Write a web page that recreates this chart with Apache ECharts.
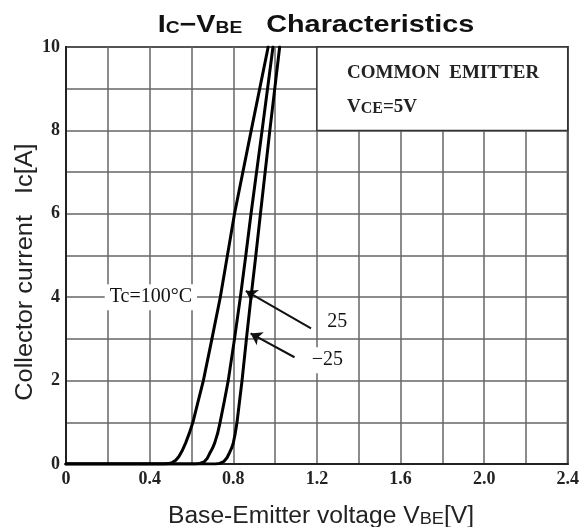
<!DOCTYPE html>
<html><head><meta charset="utf-8">
<script src="https://cdn.jsdelivr.net/npm/echarts@6/dist/echarts.min.js"></script>
<style>html,body{margin:0;padding:0;background:#fff}#c{width:582px;height:527px}</style>
</head><body><div id="c"></div>
<script>
// Data (VBE in V, Ic in A)
const vbeT100 = [0, 0.47, 0.49, 0.51, 0.525, 0.54, 0.555, 0.572, 0.59, 0.607, 0.632, 0.657, 0.698, 0.738, 0.772, 0.806, 0.886, 0.967];
const icT100  = [0, 0,    0.01, 0.04, 0.09,  0.18, 0.31,  0.5,   0.74, 1,     1.5,   2,     3,     4,     5,     6,     8,     10];
const vbeT25  = [0, 0.62, 0.64,  0.66, 0.675, 0.687, 0.70, 0.711, 0.725, 0.737, 0.757, 0.776, 0.806, 0.834, 0.86, 0.885, 0.938, 0.99];
const icT25   = [0, 0,    0.015, 0.05, 0.13,  0.25,  0.37, 0.5,   0.73,  1,     1.5,   2,     3,     4,     5,    6,     8,     10];
const vbeTm25 = [0, 0.715, 0.735, 0.755, 0.77, 0.782, 0.792, 0.80, 0.809, 0.818, 0.83, 0.842, 0.863, 0.885, 0.908, 0.93, 0.975, 1.022];
const icTm25  = [0, 0,     0.015, 0.06,  0.15, 0.27,  0.38,  0.5,  0.72,  1,     1.5,  2,     3,     4,     5,     6,    8,     10];

const xTicks = [0, 0.4, 0.8, 1.2, 1.6, 2.0, 2.4];
const yTicks = [0, 2, 4, 6, 8, 10];

const curveLabels = [
  {name: 'Tc=100°C', coord: [0.406, 4.0]},
  {name: '25', coord: [1.298, 3.4]},
  {name: '−25', coord: [1.25, 2.49]}
];
const arrows = [
  [[1.172, 3.25], [0.86, 4.15]],
  [[1.093, 2.56], [0.883, 3.13]]
];
const noteBox = [[1.2, 8], [2.4, 10]];

const zip = (xs, ys) => xs.map((x, i) => [x, ys[i]]);
const chart = echarts.init(document.getElementById('c'), null, {renderer: 'canvas'});

const serif = '"Liberation Serif", "DejaVu Serif", serif';
const sans = '"Liberation Sans", Arial, sans-serif';

const curveStyle = {color: '#000', width: 3, join: 'round', cap: 'round'};
const baseSeries = (name, data) => ({
  name, type: 'line', data, showSymbol: false, smooth: false,
  lineStyle: curveStyle, itemStyle: {color: '#000'}, z: 5, silent: true, animation: false
});

const s0 = baseSeries('Tc=100°C', zip(vbeT100, icT100));
s0.markArea = {
  silent: true, z: 1,
  itemStyle: {color: '#fff', opacity: 1, borderColor: '#333', borderWidth: 1.5},
  data: [[{xAxis: noteBox[0][0], yAxis: noteBox[0][1]}, {xAxis: noteBox[1][0], yAxis: noteBox[1][1]}]]
};
s0.markPoint = {
  silent: true, symbol: 'rect', symbolSize: 1, itemStyle: {color: 'rgba(0,0,0,0)'},
  label: {show: true, position: 'inside', formatter: p => p.name, backgroundColor: '#fff',
          padding: [3, 5], color: '#111', fontFamily: serif, fontSize: 20},
  data: curveLabels.map(l => ({name: l.name, coord: l.coord}))
};
s0.markLine = {
  silent: true, symbol: ['none', 'arrow'], symbolSize: 11, animation: false,
  lineStyle: {color: '#111', width: 2, type: 'solid'}, label: {show: false},
  data: arrows.map(a => [{coord: a[0]}, {coord: a[1]}])
};

chart.setOption({
  animation: false,
  backgroundColor: '#fff',
  grid: {left: 66, right: 13, top: 47, bottom: 63, show: true, borderColor: '#222', borderWidth: 2},
  xAxis: {
    type: 'value', min: 0, max: 2.4, interval: 0.2,
    axisLine: {show: true, lineStyle: {color: '#222', width: 2}},
    axisTick: {show: false},
    splitLine: {show: true, lineStyle: {color: '#666', width: 1.5}},
    axisLabel: {
      margin: 6, color: '#222', fontFamily: serif, fontSize: 18, fontWeight: 'bold',
      formatter: v => {
        const t = xTicks.find(k => Math.abs(k - v) < 1e-6);
        if (t === undefined) return '';
        return t === 0 ? '0' : t.toFixed(1);
      }
    }
  },
  yAxis: {
    type: 'value', min: 0, max: 10, interval: 1,
    axisLine: {show: true, lineStyle: {color: '#222', width: 2}},
    axisTick: {show: false},
    splitLine: {show: true, lineStyle: {color: '#666', width: 1.5}},
    axisLabel: {
      margin: 6, color: '#222', fontFamily: serif, fontSize: 18, fontWeight: 'bold',
      formatter: v => yTicks.includes(v) ? String(v) : ''
    }
  },
  series: [
    s0,
    baseSeries('25', zip(vbeT25, icT25)),
    baseSeries('−25', zip(vbeTm25, icTm25))
  ],
  graphic: [
    {
      type: 'text', x: 316, y: 22, scaleX: 1.2, z: 10, silent: true,
      style: {
        text: '{a|I}{s|C}{a|−V}{s|BE}{a|   Characteristics}',
        align: 'center', verticalAlign: 'middle',
        rich: {
          a: {fontSize: 24, fontWeight: 'bold', fontFamily: sans, fill: '#111', lineHeight: 30, verticalAlign: 'bottom'},
          s: {fontSize: 16, fontWeight: 'bold', fontFamily: sans, fill: '#111', lineHeight: 25, verticalAlign: 'bottom'}
        }
      }
    },
    {
      type: 'text', x: 321, y: 513, scaleX: 1.07, z: 10, silent: true,
      style: {
        text: '{a|Base-Emitter voltage V}{s|BE}{a|[V]}',
        align: 'center', verticalAlign: 'middle',
        rich: {
          a: {fontSize: 23, fontFamily: sans, fill: '#222', lineHeight: 30, verticalAlign: 'bottom'},
          s: {fontSize: 17, fontFamily: sans, fill: '#222', lineHeight: 16, verticalAlign: 'bottom'}
        }
      }
    },
    {
      type: 'text', x: 26, y: 272, rotation: Math.PI / 2, scaleX: 1.1, z: 10, silent: true,
      style: {
        text: 'Collector current   Ic[A]', align: 'center', verticalAlign: 'middle',
        fontSize: 23, fontFamily: sans, fill: '#222'
      }
    },
    {
      type: 'text', x: 347, y: 73, z: 10, silent: true,
      style: {
        text: 'COMMON  EMITTER', align: 'left', verticalAlign: 'middle',
        fontSize: 19, fontWeight: 'bold', fontFamily: serif, fill: '#222'
      }
    },
    {
      type: 'text', x: 347, y: 104, z: 10, silent: true,
      style: {
        text: '{a|V}{s|CE}{a|=5V}', align: 'left', verticalAlign: 'middle',
        rich: {
          a: {fontSize: 19, fontWeight: 'bold', fontFamily: serif, fill: '#222', lineHeight: 26, verticalAlign: 'bottom'},
          s: {fontSize: 16, fontWeight: 'bold', fontFamily: serif, fill: '#222', lineHeight: 16, verticalAlign: 'bottom'}
        }
      }
    }
  ]
});
</script></body></html>
